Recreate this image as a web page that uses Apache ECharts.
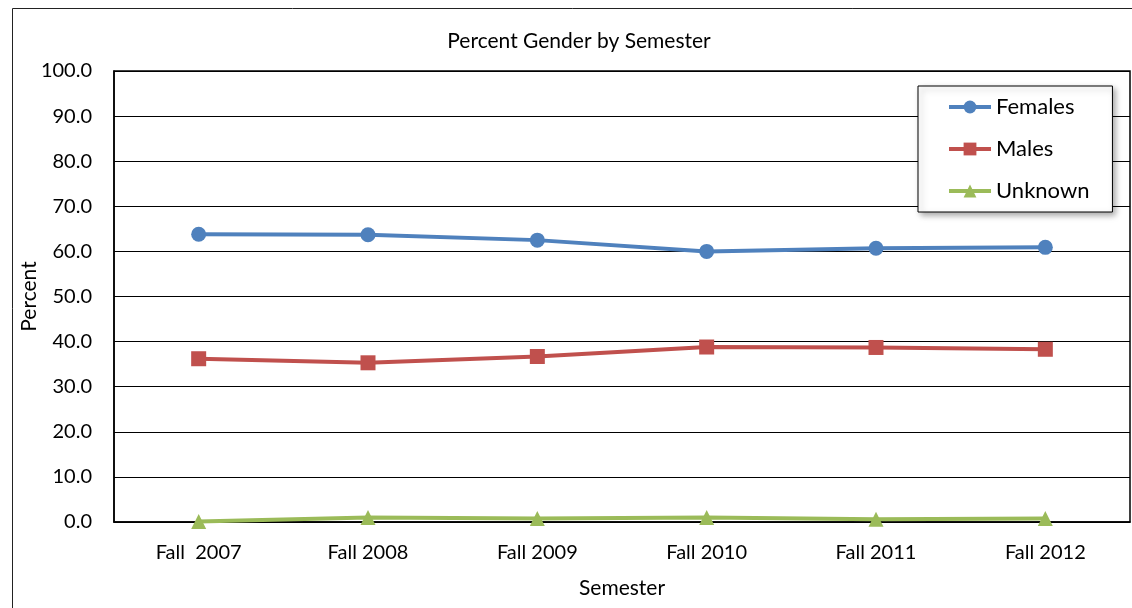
<!DOCTYPE html>
<html>
<head>
<meta charset="utf-8">
<title>Percent Gender by Semester</title>
<script src="https://cdn.jsdelivr.net/npm/echarts@6/dist/echarts.min.js"></script>
<style>
  html, body { margin: 0; padding: 0; background: #fff; }
  #chart { width: 1132px; height: 608px; }
</style>
</head>
<body>
<div id="chart"></div>
<script>
// 数据
var semesters = ['Fall  2007', 'Fall 2008', 'Fall 2009', 'Fall 2010', 'Fall 2011', 'Fall 2012'];
var females = [63.8, 63.7, 62.5, 60.0, 60.7, 60.9];
var males = [36.2, 35.3, 36.7, 38.8, 38.7, 38.3];
var unknown = [0.1, 1.0, 0.8, 1.0, 0.6, 0.8];

var font = 'Lato, "Liberation Sans", sans-serif';

var myChart = echarts.init(document.getElementById('chart'));

var option = {
  animation: false,
  textStyle: { fontFamily: font },
  title: {
    text: 'Percent Gender by Semester',
    left: 574,
    top: 26,
    textAlign: 'center',
    textStyle: { fontFamily: font, fontSize: 21, fontWeight: 'normal', color: '#000' }
  },
  // 外框
  graphic: [{
    type: 'rect',
    shape: { x: 12.5, y: 8.5, width: 1140, height: 620 },
    style: { fill: 'none', stroke: '#222', lineWidth: 1 },
    z: -1
  }],
  legend: {
    orient: 'vertical',
    left: 918,
    top: 86,
    padding: [10, 23, 10, 29],
    itemGap: 20,
    itemWidth: 42,
    itemHeight: 16,
    backgroundColor: '#fff',
    borderColor: '#000',
    borderWidth: 1,
    shadowColor: 'rgba(0,0,0,0.35)',
    shadowBlur: 6,
    shadowOffsetX: 3,
    shadowOffsetY: 3,
    lineStyle: { width: 4 },
    textStyle: { fontFamily: font, fontSize: 22, color: '#000' },
    data: ['Females', 'Males', 'Unknown']
  },
  grid: {
    left: 114,
    top: 71,
    right: 2,
    bottom: 86,
    show: true,
    borderColor: '#000',
    borderWidth: 1.5
  },
  xAxis: {
    type: 'category',
    data: semesters,
    boundaryGap: true,
    name: 'Semester',
    nameLocation: 'middle',
    nameGap: 56,
    nameMoveOverlap: false,
    nameTextStyle: { fontFamily: font, fontSize: 21, color: '#000' },
    axisLine: { lineStyle: { color: '#000', width: 1.5 } },
    axisTick: { show: false },
    axisLabel: { fontFamily: font, fontSize: 20, color: '#000', margin: 21 }
  },
  yAxis: {
    type: 'value',
    min: 0,
    max: 100,
    interval: 10,
    name: 'Percent',
    nameLocation: 'middle',
    nameGap: 74,
    nameMoveOverlap: false,
    nameTextStyle: { fontFamily: font, fontSize: 21, color: '#000' },
    axisLine: { show: true, lineStyle: { color: '#000', width: 1.5 } },
    axisTick: { show: false },
    axisLabel: {
      fontFamily: font, fontSize: 20, color: '#000', margin: 22,
      formatter: function (v) { return v.toFixed(1); }
    },
    splitLine: { lineStyle: { color: '#000', width: 1 } }
  },
  series: [{
    name: 'Females',
    type: 'line',
    data: females,
    symbol: 'circle',
    symbolSize: 15,
    color: '#4F81BD',
    lineStyle: { width: 4 }
  }, {
    name: 'Males',
    type: 'line',
    data: males,
    symbol: 'rect',
    symbolSize: 15,
    color: '#C0504D',
    lineStyle: { width: 4 }
  }, {
    name: 'Unknown',
    type: 'line',
    data: unknown,
    symbol: 'triangle',
    symbolSize: 15,
    color: '#9BBB59',
    lineStyle: { width: 4 }
  }]
};

myChart.setOption(option);
</script>
</body>
</html>
